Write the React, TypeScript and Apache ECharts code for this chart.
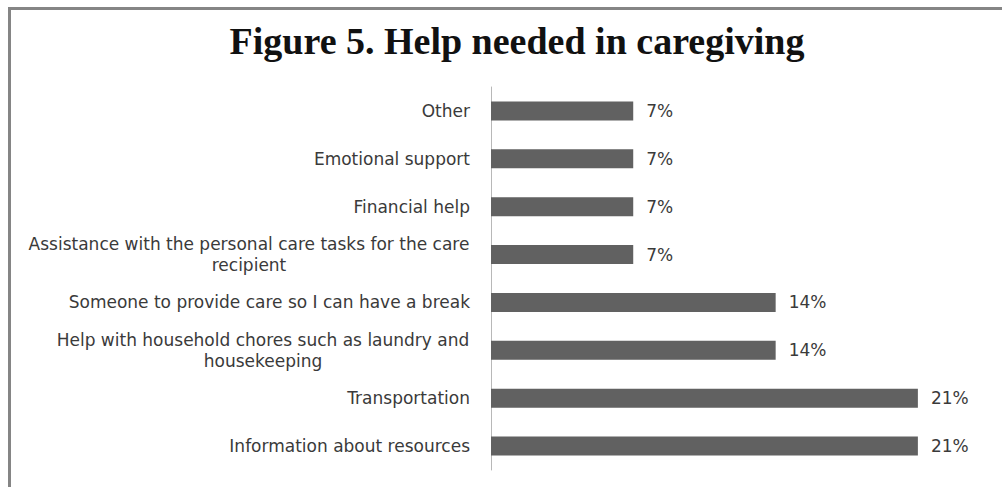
import React, { useEffect, useRef } from "react";
import * as echarts from "echarts";

const titleText = "Figure 5. Help needed in caregiving";

const categories: string[][] = [
  ["Other"],
  ["Emotional support"],
  ["Financial help"],
  ["Assistance with the personal care tasks for the care", "recipient"],
  ["Someone to provide care so I can have a break"],
  ["Help with household chores such as laundry and", "housekeeping"],
  ["Transportation"],
  ["Information about resources"],
];

const values = [7.14, 7.14, 7.14, 7.14, 14.29, 14.29, 21.43, 21.43];

const LABEL_FONT = "'DejaVu Sans', sans-serif";
const LABEL_SIZE = 17;

function measure(text: string): number {
  const c = document.createElement("canvas");
  const ctx = c.getContext("2d");
  if (!ctx) return text.length * 8.5;
  ctx.font = `${LABEL_SIZE}px ${LABEL_FONT}`;
  return ctx.measureText(text).width;
}

export default function App() {
  const ref = useRef<HTMLDivElement>(null);
  useEffect(() => {
    if (!ref.current) return;
    const chart = echarts.init(ref.current, undefined, { renderer: "svg" });
    const keys = categories.map((_, i) => "c" + i);
    const rich: Record<string, any> = {};
    categories.forEach((lines, i) => {
      if (lines.length > 1) {
        const w = Math.max(...lines.map(measure));
        rich["r" + i] = {
          width: Math.ceil(w) + 1,
          align: "center",
          lineHeight: 21,
          fontSize: LABEL_SIZE,
          fontFamily: LABEL_FONT,
          color: "#3a3a3a",
        };
      }
    });
    chart.setOption({
      animation: false,
      backgroundColor: "#ffffff",
      title: {
        text: titleText,
        left: 512,
        top: 17,
        textAlign: "center",
        textStyle: {
          fontFamily: "'Liberation Serif', serif",
          fontSize: 38,
          fontWeight: "bold",
          color: "#111111",
        },
      },
      graphic: [
        { type: "rect", shape: { x: 8, y: 7, width: 994, height: 3 }, style: { fill: "#858585" } },
        { type: "rect", shape: { x: 8, y: 7, width: 3, height: 480 }, style: { fill: "#858585" } },
      ],
      grid: { left: 491, top: 87, right: 13, bottom: 17, containLabel: false },
      xAxis: {
        type: "value",
        min: 0,
        max: 25,
        show: false,
      },
      yAxis: {
        type: "category",
        inverse: true,
        data: keys,
        axisLine: { show: true, lineStyle: { color: "#b8b8b8", width: 1 } },
        axisTick: { show: false },
        splitLine: { show: false },
        axisLabel: {
          margin: 21,
          fontFamily: LABEL_FONT,
          fontSize: LABEL_SIZE,
          color: "#3a3a3a",
          rich,
          formatter: (v: string) => {
            const i = parseInt(v.slice(1), 10);
            const lines = categories[i];
            if (lines.length > 1) {
              return lines.map((l) => `{r${i}|${l}}`).join("\n");
            }
            return lines[0];
          },
        },
      },
      series: [
        {
          type: "bar",
          data: values,
          barWidth: 19,
          itemStyle: { color: "#616161" },
          label: {
            show: true,
            position: "right",
            distance: 13,
            fontFamily: LABEL_FONT,
            fontSize: LABEL_SIZE,
            color: "#3a3a3a",
            formatter: (p: any) => `${Math.round(p.value)}%`,
          },
        },
      ],
    });
    return () => chart.dispose();
  }, []);
  return (
    <div
      ref={ref}
      style={{ position: "absolute", left: 0, top: 0, width: 1002, height: 487 }}
    />
  );
}
